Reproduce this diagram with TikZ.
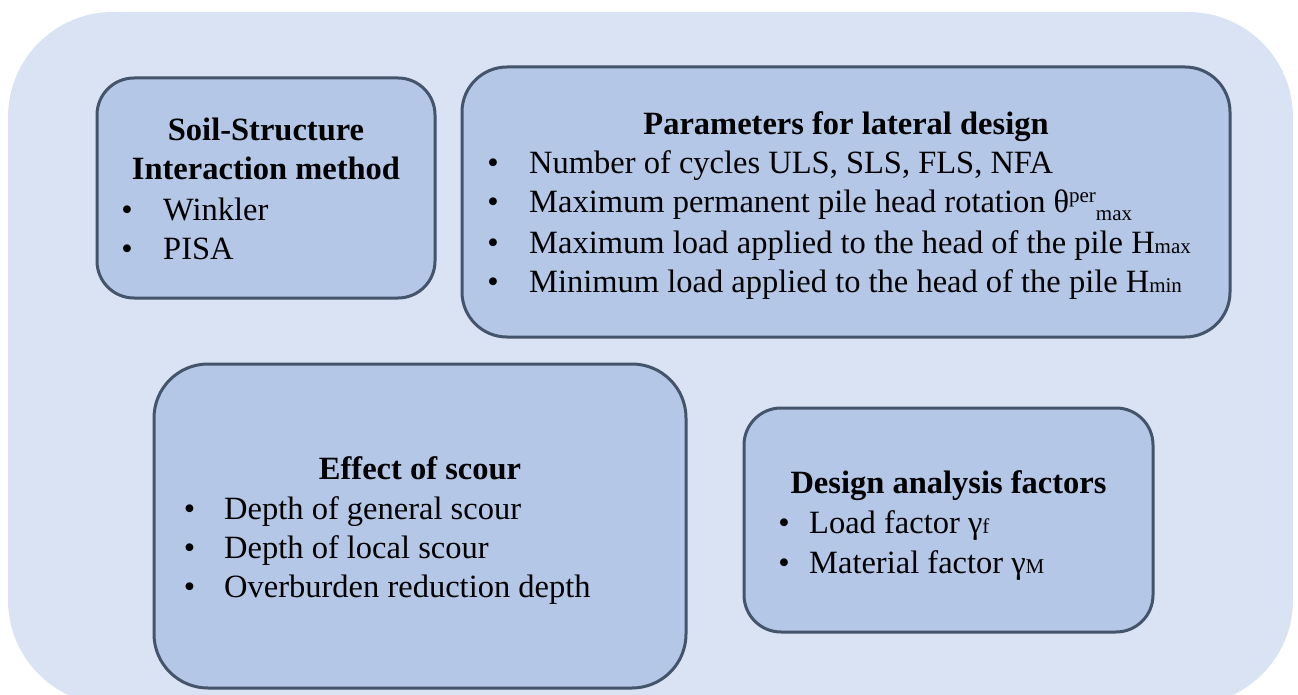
\documentclass[tikz,border=0pt]{standalone}
\usepackage{fontspec}
\setmainfont{Liberation Serif}
\definecolor{panelbg}{HTML}{DAE3F3}
\definecolor{boxfill}{HTML}{B4C7E7}
\definecolor{boxline}{HTML}{44546A}
% small index text set on the baseline, and raised / lowered variants
\newcommand{\smallidx}[1]{{\fontsize{21}{21}\selectfont #1}}
\newcommand{\upidx}[1]{\raisebox{10pt}{\smallidx{#1}}}
\newcommand{\downidx}[1]{\raisebox{-7pt}{\smallidx{#1}}}
\tikzset{
  panel/.style={draw=boxline, line width=3pt, fill=boxfill, inner sep=0pt, outer sep=0pt},
  heading/.style={anchor=base, inner sep=0pt, font=\fontsize{32.5}{39}\selectfont\bfseries},
  itemtext/.style={anchor=base west, inner sep=0pt, font=\fontsize{32.5}{39}\selectfont},
  dot/.style={anchor=base, inner sep=0pt, font=\fontsize{32.5}{39}\selectfont},
}
\begin{document}
\begin{tikzpicture}[x=1pt, y=-1pt]
  \useasboundingbox (0,0) rectangle (1298,695);
  % light background panel, running off the lower edge
  \begin{scope}
    \clip (0,0) rectangle (1298,695);
    \fill[panelbg, rounded corners=105pt] (8,12) rectangle (1293,705);
  \end{scope}

  % the four boxes
  \node[panel, rounded corners=37pt, minimum width=338pt, minimum height=220pt] (soil) at (266,188) {};
  \node[panel, rounded corners=45pt, minimum width=768pt, minimum height=270pt] (params) at (846,202) {};
  \node[panel, rounded corners=54pt, minimum width=532pt, minimum height=324pt] (scour) at (420,526) {};
  \node[panel, rounded corners=37pt, minimum width=409pt, minimum height=224pt] (factors) at (948.5,520) {};

  % Soil-Structure Interaction method
  \node[heading] (soilT1) at (266,141) {Soil-Structure};
  \node[heading] (soilT2) at (266,180) {Interaction method};
  \node[dot] (soilB1) at (127,220) {•};
  \node[itemtext] (soilI1) at (163,220) {Winkler};
  \node[dot] (soilB2) at (127,259) {•};
  \node[itemtext] (soilI2) at (163,259) {PISA};

  % Parameters for lateral design
  \node[heading] (parT) at (846,135) {Parameters for lateral design};
  \node[dot] (parB1) at (493,174) {•};
  \node[itemtext] (parI1) at (529,174) {Number of cycles ULS, SLS, FLS, NFA};
  \node[dot] (parB2) at (493,213) {•};
  \node[itemtext] (parI2) at (529,213) {Maximum permanent pile head rotation θ\upidx{per}\downidx{max}};
  \node[dot] (parB3) at (493,253) {•};
  \node[itemtext] (parI3) at (529,253) {Maximum load applied to the head of the pile H\smallidx{max}};
  \node[dot] (parB4) at (493,292) {•};
  \node[itemtext] (parI4) at (529,292) {Minimum load applied to the head of the pile H\smallidx{min}};

  % Effect of scour
  \node[heading] (scourT) at (420,479) {Effect of scour};
  \node[dot] (scourB1) at (189.5,519) {•};
  \node[itemtext] (scourI1) at (224,519) {Depth of general scour};
  \node[dot] (scourB2) at (189.5,558) {•};
  \node[itemtext] (scourI2) at (224,558) {Depth of local scour};
  \node[dot] (scourB3) at (189.5,597) {•};
  \node[itemtext] (scourI3) at (224,597) {Overburden reduction depth};

  % Design analysis factors
  \node[heading] (facT) at (948.5,493) {Design analysis factors};
  \node[dot] (facB1) at (784,533) {•};
  \node[itemtext] (facI1) at (809,533) {Load factor γ\smallidx{f}};
  \node[dot] (facB2) at (784,573) {•};
  \node[itemtext] (facI2) at (809,573) {Material factor γ\smallidx{M}};
\end{tikzpicture}
\end{document}
